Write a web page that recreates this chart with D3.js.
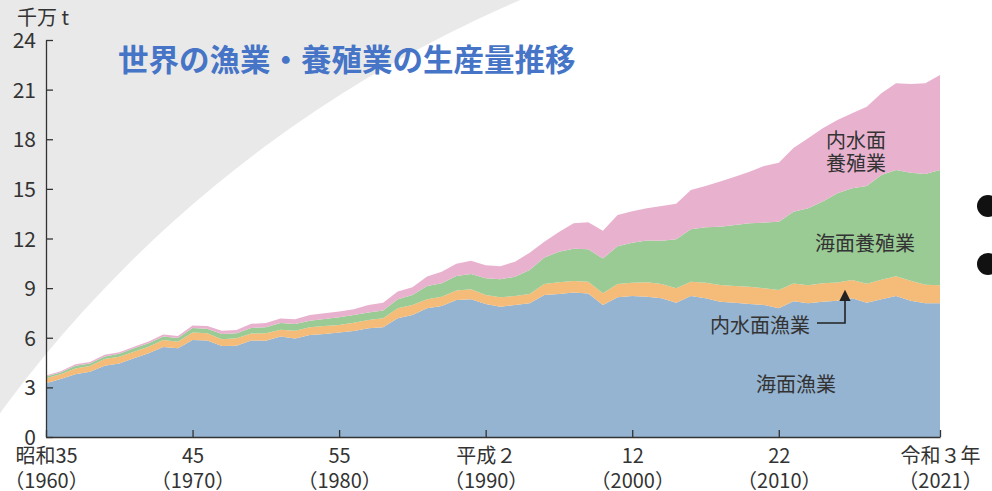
<!DOCTYPE html>
<html>
<head>
<meta charset="utf-8">
<script src="https://cdn.jsdelivr.net/npm/d3@7"></script>
<style>
  body { margin: 0; background: #ffffff; }
  svg text { font-family: "Noto Sans CJK JP", "Noto Sans", sans-serif; }
</style>
</head>
<body>
<div id="chart"></div>
<script>
// 1960 - 2021, 単位: 千万t
const years = d3.range(1960, 2022)

const marineCapture = [
    3.25, 3.5, 3.8, 3.95, 4.3, 4.45, 4.76, 5.06, 5.44, 5.36,
    5.86, 5.84, 5.5, 5.52, 5.84, 5.82, 6.08, 5.96, 6.16, 6.23,
    6.31, 6.41, 6.57, 6.63, 7.18, 7.38, 7.78, 7.92, 8.28, 8.32,
    8.04, 7.88, 7.98, 8.08, 8.59, 8.65, 8.73, 8.68, 7.98, 8.45,
    8.52, 8.48, 8.39, 8.12, 8.52, 8.39, 8.18, 8.12, 8.04, 7.98,
    7.78, 8.2, 8.08, 8.18, 8.24, 8.39, 8.12, 8.32, 8.52, 8.24,
    8.08, 8.08
]
const inlandCapture = [
    0.3, 0.3, 0.34, 0.34, 0.41, 0.4, 0.4, 0.4, 0.42, 0.4,
    0.45, 0.43, 0.41, 0.45, 0.41, 0.45, 0.41, 0.47, 0.47, 0.48,
    0.46, 0.5, 0.5, 0.55, 0.6, 0.6, 0.55, 0.56, 0.57, 0.61,
    0.55, 0.57, 0.54, 0.57, 0.66, 0.7, 0.7, 0.71, 0.71, 0.8,
    0.81, 0.88, 0.86, 0.87, 0.87, 0.94, 1.01, 1.01, 1.05, 1.01,
    1.11, 1.08, 1.1, 1.12, 1.1, 1.1, 1.15, 1.18, 1.2, 1.2,
    1.12, 1.1
]
const marineAqua = [
    0.1, 0.1, 0.16, 0.15, 0.16, 0.18, 0.2, 0.2, 0.21, 0.22,
    0.28, 0.28, 0.32, 0.3, 0.34, 0.36, 0.4, 0.4, 0.4, 0.42,
    0.47, 0.47, 0.45, 0.46, 0.54, 0.61, 0.8, 0.81, 0.88, 0.92,
    1.01, 1.08, 1.17, 1.45, 1.6, 1.85, 1.95, 1.96, 2.1, 2.28,
    2.42, 2.52, 2.62, 2.96, 3.17, 3.35, 3.52, 3.69, 3.83, 3.97,
    4.13, 4.34, 4.65, 4.93, 5.39, 5.55, 5.91, 6.34, 6.42, 6.54,
    6.7, 6.96
]
const inlandAqua = [
    0.07, 0.07, 0.1, 0.1, 0.1, 0.1, 0.1, 0.11, 0.12, 0.12,
    0.15, 0.16, 0.2, 0.2, 0.25, 0.26, 0.27, 0.29, 0.35, 0.35,
    0.34, 0.34, 0.46, 0.48, 0.47, 0.46, 0.58, 0.7, 0.75, 0.8,
    0.78, 0.8, 0.9, 1.04, 0.95, 1.2, 1.54, 1.63, 1.68, 1.89,
    1.9, 1.95, 2.1, 2.15, 2.37, 2.5, 2.73, 2.92, 3.12, 3.42,
    3.56, 3.85, 4.23, 4.43, 4.43, 4.53, 4.79, 4.94, 5.24, 5.36,
    5.48, 5.75
]

const seriesKeys = ["marineCapture", "inlandCapture", "marineAqua", "inlandAqua"]
const seriesColors = ["#95b4d2", "#f5bb78", "#9acb95", "#e8b2cf"]

const yTicks = [0, 3, 6, 9, 12, 15, 18, 21, 24]
const xTicks = [1960, 1970, 1980, 1990, 2000, 2010, 2021]
const xLabelTop = ["昭和35", "45", "55", "平成２", "12", "22", "令和３年"]
const xLabelBottom = ["（1960）", "（1970）", "（1980）", "（1990）", "（2000）", "（2010）", "（2021）"]

const title = "世界の漁業・養殖業の生産量推移"
const unitLabel = "千万 t"

const width = 992,
    height = 491

const margin = {
    left: 46,
    right: 52,
    top: 40,
    bottom: 54
}

const svg = d3.select("#chart").append("svg")
        .attr("width", width)
        .attr("height", height)

// 背景（左上の灰色と白い円弧）
svg.append("rect")
        .attr("width", width)
        .attr("height", height)
        .attr("fill", "#e9e9e9")
svg.append("circle")
        .attr("cx", 1014)
        .attr("cy", 1156)
        .attr("r", 1257)
        .attr("fill", "#ffffff")

const x = d3.scaleLinear().domain([1960, 2021]).range([margin.left, width - margin.right])
const y = d3.scaleLinear().domain([0, 24]).range([height - margin.bottom, margin.top])

const table = years.map((yr, i) => ({
    year: yr,
    marineCapture: marineCapture[i],
    inlandCapture: inlandCapture[i],
    marineAqua: marineAqua[i],
    inlandAqua: inlandAqua[i]
}))

const stacked = d3.stack().keys(seriesKeys)(table)

const area = d3.area()
        .x(d => x(d.data.year))
        .y0(d => y(d[0]))
        .y1(d => y(d[1]))

svg.append("g").selectAll("path")
        .data(stacked)
        .enter()
        .append("path")
        .attr("d", area)
        .attr("fill", (d, i) => seriesColors[i])

// 軸
const yAxis = svg.append("g")
        .attr("transform", "translate(" + margin.left + ",0)")
        .call(d3.axisLeft(y).tickValues(yTicks).tickSize(-7).tickSizeOuter(0).tickPadding(10))
const xAxis = svg.append("g")
        .attr("transform", "translate(0," + y(0) + ")")
        .call(d3.axisBottom(x).tickValues(xTicks).tickSize(-7).tickSizeOuter(0).tickFormat(""))

svg.selectAll(".domain, .tick line")
        .attr("stroke", "#333")
        .attr("stroke-width", 1.3)

yAxis.selectAll("text")
        .attr("fill", "#333")
        .style("font-size", "21px")
        .attr("dy", "0.36em")

xAxis.selectAll(".tick text")
        .attr("fill", "#333")
        .style("font-size", "20px")
        .attr("y", 0)
        .attr("dy", null)
        .each(function (d, i) {
            const t = d3.select(this)
            t.append("tspan").attr("x", 0).attr("y", 26).text(xLabelTop[i])
            t.append("tspan").attr("x", 0).attr("y", 51).text(xLabelBottom[i])
        })

svg.append("text")
        .attr("x", 17)
        .attr("y", 25)
        .attr("fill", "#333")
        .style("font-size", "20px")
        .text(unitLabel)

svg.append("text")
        .attr("x", 118)
        .attr("y", 71)
        .attr("fill", "#4674c6")
        .style("font-size", "30.5px")
        .style("font-weight", "bold")
        .text(title)

// 系列ラベル
const labels = [
    { lines: ["内水面", "養殖業"], x: 856, y: 148 },
    { lines: ["海面養殖業"], x: 865, y: 251 },
    { lines: ["内水面漁業"], x: 760, y: 333 },
    { lines: ["海面漁業"], x: 796, y: 392 }
]
labels.forEach((l) => {
    const t = svg.append("text")
            .attr("text-anchor", "middle")
            .attr("fill", "#333")
            .style("font-size", "20px")
    l.lines.forEach((s, i) => {
        t.append("tspan").attr("x", l.x).attr("y", l.y + i * 23).text(s)
    })
})

svg.append("defs").append("marker")
        .attr("id", "arrow")
        .attr("viewBox", "0 0 10 10")
        .attr("refX", 5)
        .attr("refY", 10)
        .attr("markerWidth", 7)
        .attr("markerHeight", 9)
        .attr("orient", "0")
        .append("path")
        .attr("d", "M0,10 L5,0 L10,10 Z")
        .attr("fill", "#222")

svg.append("path")
        .attr("d", "M817,323 H845 V301")
        .attr("fill", "none")
        .attr("stroke", "#222")
        .attr("stroke-width", 1.6)
        .attr("marker-end", "url(#arrow)")

// 右端の黒丸
svg.selectAll(".bullet")
        .data([206, 264])
        .enter()
        .append("circle")
        .attr("class", "bullet")
        .attr("cx", 988)
        .attr("cy", d => d)
        .attr("r", 11)
        .attr("fill", "#111")
</script>
</body>
</html>
